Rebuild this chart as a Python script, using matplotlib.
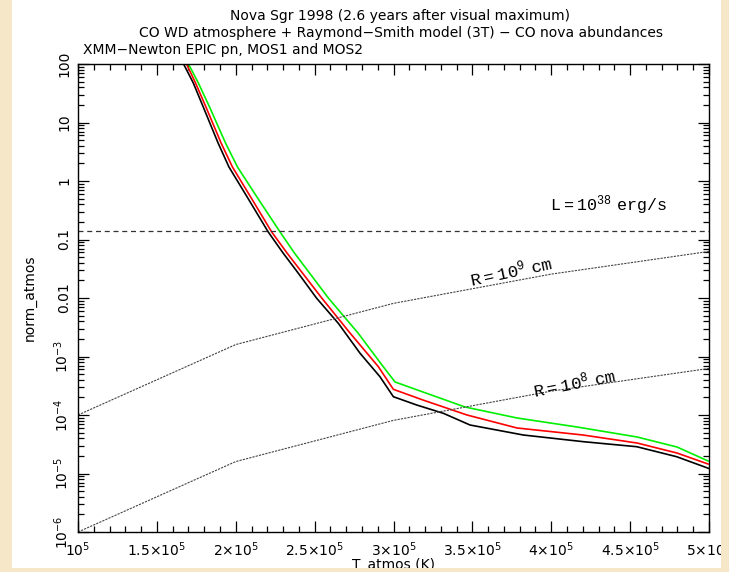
import numpy as np
import matplotlib.pyplot as plt
from matplotlib.patches import Rectangle
from matplotlib.ticker import MultipleLocator, LogLocator, NullFormatter

plt.rcParams['mathtext.fontset'] = 'custom'
plt.rcParams['mathtext.rm'] = 'DejaVu Sans'
plt.rcParams['mathtext.tt'] = 'Liberation Mono'

# temperatura atmosfera (unita 1e5 K) e log10(norm_atmos)
t_black = [1.666, 1.731, 1.794, 1.888, 1.957, 2.084, 2.206, 2.300, 2.397, 2.513,
           2.650, 2.788, 2.914, 2.999, 3.147, 3.316, 3.485, 3.823, 4.203, 4.542,
           4.795, 4.996]
lg_black = [2.017, 1.675, 1.265, 0.650, 0.239, -0.325, -0.872, -1.231, -1.578, -2.005,
            -2.432, -2.945, -3.345, -3.687, -3.829, -3.971, -4.171, -4.342, -4.456, -4.542,
            -4.713, -4.911]

t_red = [1.685, 1.745, 1.811, 1.907, 1.979, 2.106, 2.228, 2.325, 2.545, 2.724,
         2.904, 2.999, 3.187, 3.466, 3.783, 4.201, 4.544, 4.797, 4.994]
lg_red = [2.017, 1.675, 1.265, 0.650, 0.239, -0.325, -0.872, -1.231, -2.0, -2.598,
          -3.174, -3.561, -3.744, -4.0, -4.222, -4.342, -4.479, -4.65, -4.838]

t_green = [1.697, 1.763, 1.834, 1.935, 2.011, 2.147, 2.281, 2.372, 2.587, 2.775,
           2.935, 3.010, 3.187, 3.453, 3.783, 4.163, 4.544, 4.797, 4.994]
lg_green = [2.017, 1.675, 1.265, 0.650, 0.239, -0.325, -0.872, -1.231, -2.0, -2.598,
            -3.174, -3.436, -3.607, -3.863, -4.051, -4.205, -4.376, -4.547, -4.786]

# rette di raggio costante
t_radius = [1.0, 2.0, 3.0, 4.0, 5.0]
norm_r9 = [1.0e-4, 1.6e-3, 8.1e-3, 2.56e-2, 6.25e-2]
norm_r8 = [1.0e-6, 1.6e-5, 8.1e-5, 2.56e-4, 6.25e-4]
norm_lum = 0.14

xtick_vals = [1.0, 1.5, 2.0, 2.5, 3.0, 3.5, 4.0, 4.5, 5.0]
xtick_labels = [r'$10^5$', r'$1.5{\times}10^5$', r'$2{\times}10^5$', r'$2.5{\times}10^5$',
                r'$3{\times}10^5$', r'$3.5{\times}10^5$', r'$4{\times}10^5$',
                r'$4.5{\times}10^5$', r'$5{\times}10^5$']
ytick_vals = [1e2, 1e1, 1e0, 1e-1, 1e-2, 1e-3, 1e-4, 1e-5, 1e-6]
ytick_labels = ['100', '10', '1', '0.1', '0.01', r'$10^{-3}$', r'$10^{-4}$',
                r'$10^{-5}$', r'$10^{-6}$']

W, H = 729, 572
beige = '#f7e7c9'
fig = plt.figure(figsize=(W / 100, H / 100), dpi=100, facecolor=beige)
fig.patches.append(Rectangle((12 / W, 0), 709 / W, 1, transform=fig.transFigure,
                             facecolor='white', edgecolor='none', zorder=-5))

ax = fig.add_axes([78 / W, 1 - 532 / H, (709 - 78) / W, (532 - 64) / H])
ax.set_facecolor('white')

sc = 1e5
ax.plot(np.array(t_black) * sc, 10 ** np.array(lg_black), color='black', lw=1.2)
ax.plot(np.array(t_red) * sc, 10 ** np.array(lg_red), color='red', lw=1.2)
ax.plot(np.array(t_green) * sc, 10 ** np.array(lg_green), color='#00f000', lw=1.2)

ax.plot(np.array(t_radius) * sc, norm_r9, color='#444444', lw=0.8, ls=(0, (2, 1)))
ax.plot(np.array(t_radius) * sc, norm_r8, color='#444444', lw=0.8, ls=(0, (2, 1)))
ax.axhline(norm_lum, color='#333333', lw=0.9, ls=(0, (4, 3)))

ax.set_yscale('log')
ax.set_xlim(1e5, 5e5)
ax.set_ylim(1e-6, 100)

ax.set_xticks(np.array(xtick_vals) * sc)
ax.set_xticklabels(xtick_labels, fontsize=10)
ax.xaxis.set_minor_locator(MultipleLocator(1e4))
ax.set_yticks(ytick_vals)
ax.set_yticklabels(ytick_labels, fontsize=10, rotation=90, va='center')
ax.yaxis.set_minor_locator(LogLocator(base=10, subs=np.arange(2, 10)))
ax.yaxis.set_minor_formatter(NullFormatter())

ax.tick_params(which='both', direction='in', top=True, right=True, width=0.9)
ax.tick_params(which='major', length=8)
ax.tick_params(which='minor', length=4)
ax.tick_params(axis='x', pad=6)
ax.tick_params(axis='y', pad=5)
for s in ax.spines.values():
    s.set_linewidth(1.0)

ax.set_ylabel('norm_atmos', fontsize=10, labelpad=11)

# etichette delle curve di riferimento
ax.text(0.84, 0.699, r'$\mathtt{L=10^{38}\ erg/s}$', transform=ax.transAxes,
        fontsize=12, ha='center', va='center')
ax.text(0.686, 0.556, r'$\mathtt{R=10^{9}\ cm}$', transform=ax.transAxes,
        fontsize=12.5, ha='center', va='center', rotation=12)
ax.text(0.786, 0.318, r'$\mathtt{R=10^{8}\ cm}$', transform=ax.transAxes,
        fontsize=12.5, ha='center', va='center', rotation=11)

fig.text(400 / W, 1 - 16 / H, 'Nova Sgr 1998 (2.6 years after visual maximum)',
         ha='center', va='center', fontsize=10)
fig.text(401 / W, 1 - 33 / H, 'CO WD atmosphere + Raymond\u2212Smith model (3T) \u2212 CO nova abundances',
         ha='center', va='center', fontsize=10)
fig.text(83 / W, 1 - 50 / H, 'XMM\u2212Newton EPIC pn, MOS1 and MOS2',
         ha='left', va='center', fontsize=10)
fig.text(393 / W, 1 - 558 / H, 'T_atmos (K)', ha='center', va='top', fontsize=10)

# bordi beige sopra a tutto (taglia le etichette come nell'originale)
fig.patches.append(Rectangle((721 / W, 0), 1, 1, transform=fig.transFigure,
                             facecolor=beige, edgecolor='none', zorder=10))
fig.patches.append(Rectangle((0, 0), 1, 4 / H, transform=fig.transFigure,
                             facecolor=beige, edgecolor='none', zorder=10))

fig.savefig('out.png', dpi=100, facecolor=beige)
